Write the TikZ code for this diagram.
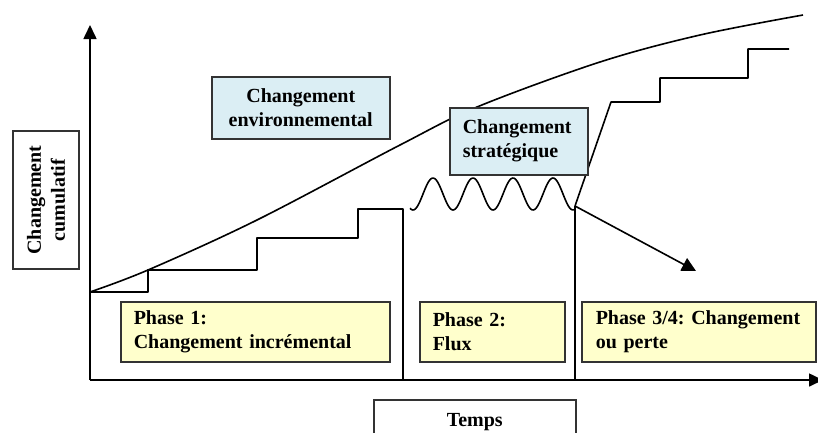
\documentclass[tikz,border=0pt]{standalone}
\usepackage{fontspec}
\setmainfont{Liberation Serif}
\usetikzlibrary{arrows.meta}
\definecolor{boxyellow}{HTML}{FFFFCC}
\definecolor{boxblue}{HTML}{DBEEF4}
\definecolor{edge}{HTML}{333333}
\frenchspacing
\begin{document}
\begin{tikzpicture}[x=1pt,y=-1pt,
  line/.style={line width=1.6pt, black, line join=round},
  tip/.style={-{Triangle[length=14pt,width=13pt]}},
  box/.style={draw=edge, line width=1.5pt, inner ysep=0pt,
    font=\bfseries\fontsize{20}{24}\selectfont},
  phasebox/.style={box, fill=boxyellow, anchor=north west,
    minimum height=60pt, align=left, inner xsep=13pt},
  bluebox/.style={box, fill=boxblue, anchor=north west}
]
\useasboundingbox (0,0) rectangle (818,432);
\clip (0,0) rectangle (818,432);

% axes
\coordinate (O) at (90,380);
\coordinate (ytop) at (90,25);
\coordinate (xend) at (823,380);
\draw[line, tip] (O) -- (ytop);
\draw[line, tip] (O) -- (xend);

% environmental change curve
\draw[line] plot[smooth, tension=0.55] coordinates
  {(90,292) (148,270) (257,220) (400,145) (477,107) (600,62) (700,35) (803,15)};

% phase 1: incremental steps
\coordinate (s0) at (90,292);
\coordinate (s4) at (403,209);
\coordinate (b1) at (403,380);
\draw[line] (s0) -- (148,292) -- (148,270) -- (257,270) -- (257,238)
  -- (358,238) -- (358,209) -- (s4) -- (b1);

% phase 2: flux
\coordinate (w1) at (575,206);
\coordinate (b2) at (575,380);
\draw[line] plot[domain=410:575, samples=120, smooth]
  (\x, {194-16*cos(9*(\x-433))});
\draw[line] (w1) -- (b2);

% phase 3/4: change or loss
\coordinate (r0) at (611,102);
\draw[line] (w1) -- (r0) -- (660,102) -- (660,78) -- (748,78) -- (748,49) -- (789,49);
\coordinate (loss) at (696,271);
\draw[line, -{Triangle[length=14pt,width=14pt]}] (w1) -- (loss);

% labels
\node[box, fill=white, rotate=90, minimum width=138pt, minimum height=66pt,
  align=center, inner xsep=0pt] (ylab) at (46,200) {Changement\\cumulatif};
\node[box, fill=white, anchor=north west, minimum width=202pt, minimum height=44pt]
  (xlab) at (373,399) {Temps};

\node[bluebox, minimum width=178pt, minimum height=62pt, align=center]
  (env) at (211,76) {Changement\\environnemental};
\node[bluebox, minimum width=138pt, minimum height=67pt, inner xsep=13pt,
  text width=112pt, align=left]
  (strat) at (449,107) {Changement\\stratégique};

\node[phasebox, text width=243pt] (p1) at (120,301) {Phase 1:\\Changement incrémental};
\node[phasebox, text width=119pt] (p2) at (419,301) {Phase 2:\\Flux};
\node[phasebox, text width=206pt, inner xsep=14pt] (p3) at (581,301) {Phase 3/4: Changement\\ou perte};
\end{tikzpicture}
\end{document}
